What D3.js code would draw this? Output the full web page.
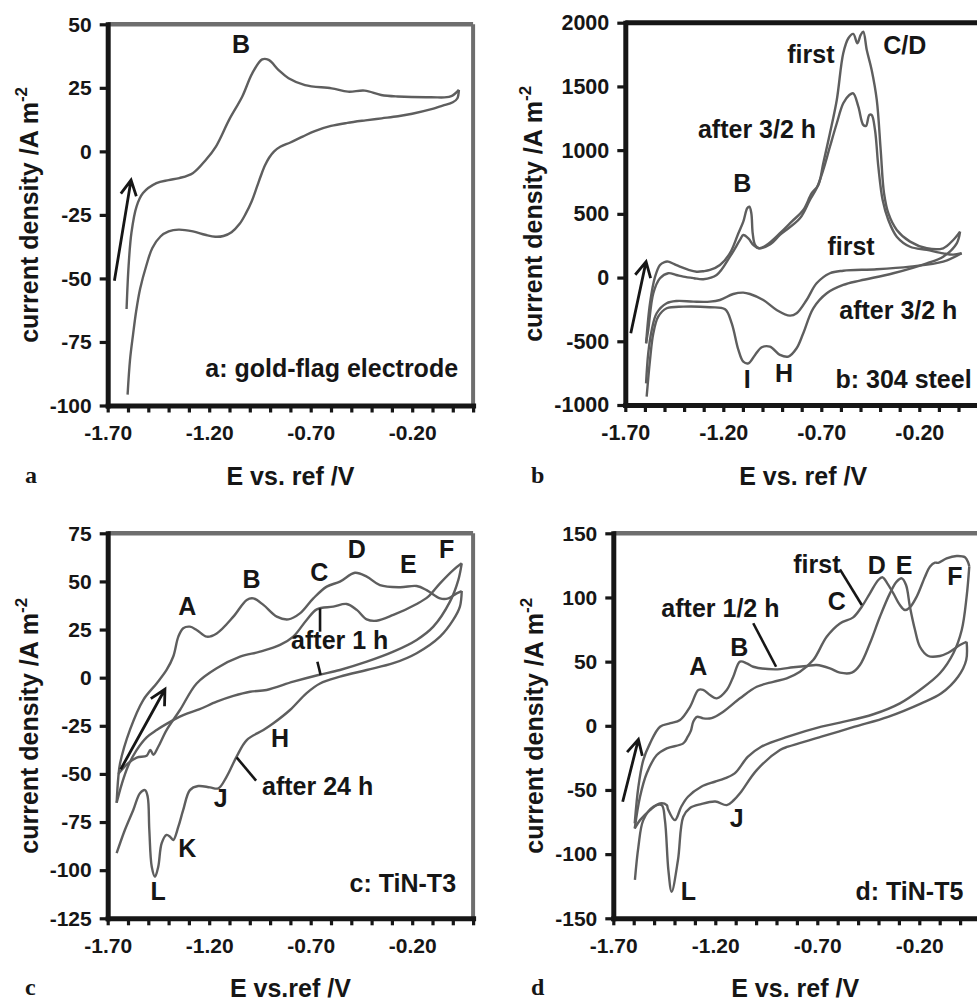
<!DOCTYPE html>
<html>
<head>
<meta charset="utf-8">
<script src="https://d3js.org/d3.v7.min.js"></script>
<style>
  html, body { margin: 0; padding: 0; background: #fff; }
  svg { display: block; }
</style>
</head>
<body>
<svg id="chart" width="977" height="1001"></svg>
<script>
// ---- data: [E vs. ref / V, current density / A m^-2] ----

// a: gold-flag electrode
const aForward = [[-1.607,-62],[-1.597,-45],[-1.583,-32],[-1.558,-21.7],[-1.526,-16.4],[-1.46,-12.5],[-1.40,-11.3],[-1.347,-10.5],[-1.281,-8.6],[-1.216,-3.3],[-1.167,1.9],[-1.102,12.4],[-1.037,21.6],[-0.988,30.7],[-0.939,36.2],[-0.907,36],[-0.858,32],[-0.809,28.8],[-0.728,26.1],[-0.597,24.8],[-0.516,23.5],[-0.434,23.9],[-0.353,22.2],[-0.272,21.6],[-0.109,21.3],[-0.011,21.6],[0.03,24.2]]
const aReverse = [[0.03,24.2],[0.022,20.8],[0.00,19.3],[-0.05,18],[-0.11,16.5],[-0.20,14.8],[-0.27,13.8],[-0.35,13],[-0.43,12.2],[-0.52,11.2],[-0.60,10],[-0.68,8],[-0.74,5.8],[-0.80,3.5],[-0.85,1.8],[-0.88,0],[-0.905,-2.5],[-0.925,-5.5],[-0.945,-9.5],[-0.965,-14],[-0.99,-19.5],[-1.02,-24.5],[-1.05,-28.5],[-1.09,-31.8],[-1.13,-33.3],[-1.17,-33.6],[-1.22,-32.8],[-1.28,-31.5],[-1.35,-30.8],[-1.40,-31.5],[-1.44,-33.5],[-1.48,-38],[-1.51,-45],[-1.54,-54],[-1.56,-63],[-1.575,-72],[-1.59,-82],[-1.602,-95.7]]

// b: 304 steel
const bFirstUp = [[-1.594,-516],[-1.574,-202],[-1.548,7],[-1.523,99],[-1.50,122],[-1.481,125],[-1.45,105],[-1.422,86],[-1.38,62],[-1.336,46],[-1.30,50],[-1.268,60],[-1.217,99],[-1.166,191],[-1.123,348],[-1.098,439],[-1.078,544],[-1.067,556],[-1.057,505],[-1.05,348],[-1.038,256],[-1.018,230],[-0.979,256],[-0.911,348],[-0.851,439],[-0.792,530],[-0.749,662],[-0.715,727],[-0.690,897],[-0.656,1132],[-0.621,1394],[-0.588,1760],[-0.562,1878],[-0.537,1912],[-0.516,1839],[-0.499,1904],[-0.486,1930],[-0.468,1786],[-0.443,1629],[-0.417,1394],[-0.397,1001],[-0.380,662],[-0.358,505],[-0.315,374],[-0.247,282],[-0.162,230],[-0.078,230],[-0.027,295],[0.008,360]]
const bLaterUp = [[-1.594,-516],[-1.583,-411],[-1.557,-123],[-1.523,-6],[-1.481,34],[-1.44,20],[-1.404,7],[-1.35,-5],[-1.302,-13],[-1.234,20],[-1.166,164],[-1.115,295],[-1.098,334],[-1.072,308],[-1.047,256],[-1.018,230],[-0.96,262],[-0.911,335],[-0.809,465],[-0.758,609],[-0.724,700],[-0.690,845],[-0.656,1027],[-0.621,1211],[-0.588,1368],[-0.557,1433],[-0.537,1446],[-0.511,1341],[-0.486,1198],[-0.472,1190],[-0.455,1276],[-0.443,1276],[-0.426,1158],[-0.409,870],[-0.387,609],[-0.358,452],[-0.315,321],[-0.247,242],[-0.162,217],[-0.078,190],[-0.027,180],[0.016,191]]
const bLaterDown = [[0.016,191],[-0.078,125],[-0.247,86],[-0.417,65],[-0.588,54],[-0.656,34],[-0.724,-45],[-0.775,-176],[-0.826,-280],[-0.86,-299],[-0.928,-254],[-0.996,-176],[-1.064,-129],[-1.098,-118],[-1.149,-129],[-1.217,-176],[-1.268,-189],[-1.353,-189],[-1.438,-184],[-1.489,-202],[-1.54,-280],[-1.565,-411],[-1.583,-594],[-1.594,-830]]
const bFirstDown = [[0.008,360],[-0.009,269],[-0.078,164],[-0.162,112],[-0.333,34],[-0.503,-24],[-0.588,-58],[-0.672,-123],[-0.741,-241],[-0.792,-437],[-0.826,-555],[-0.868,-620],[-0.911,-607],[-0.962,-542],[-1.004,-547],[-1.038,-607],[-1.072,-673],[-1.098,-660],[-1.123,-568],[-1.157,-359],[-1.191,-249],[-1.268,-233],[-1.404,-228],[-1.489,-241],[-1.532,-307],[-1.557,-437],[-1.574,-647],[-1.591,-935]]

// c: TiN-T3
const c24Up = [[-1.656,-65],[-1.648,-52],[-1.639,-44.5],[-1.59,-27],[-1.525,-11.6],[-1.459,-3],[-1.41,4],[-1.377,11],[-1.352,21.3],[-1.328,25.7],[-1.295,26.5],[-1.262,24.8],[-1.212,21.3],[-1.163,23],[-1.081,31.7],[-1.015,40.4],[-0.983,41.2],[-0.933,37.8],[-0.867,31.7],[-0.81,30.3],[-0.753,33.4],[-0.687,41.2],[-0.621,47.3],[-0.556,49.9],[-0.482,54.5],[-0.424,52.5],[-0.359,48.1],[-0.26,47],[-0.178,47.6],[-0.129,45.5],[-0.063,41.2],[-0.022,41.2],[0.019,43.8],[0.044,45]]
const c24Down = [[0.044,45],[0.035,36.9],[0.002,30],[-0.063,21.3],[-0.178,12.7],[-0.293,7.5],[-0.424,4],[-0.556,0.5],[-0.654,-3],[-0.72,-8],[-0.802,-16.8],[-0.884,-23.7],[-0.933,-27.2],[-1.015,-32.4],[-1.065,-41],[-1.114,-51.4],[-1.155,-57.5],[-1.196,-57],[-1.254,-56.3],[-1.295,-58.4],[-1.328,-68.7],[-1.352,-77.4],[-1.377,-84.3],[-1.393,-82.6],[-1.41,-81.7],[-1.434,-86],[-1.451,-98.2],[-1.467,-103.4],[-1.483,-98.2],[-1.495,-79],[-1.503,-61.8],[-1.516,-58.4],[-1.541,-60],[-1.574,-68.7],[-1.615,-79],[-1.656,-91.2]]
const c1Up = [[-1.648,-50],[-1.60,-44.5],[-1.557,-41.5],[-1.508,-40.5],[-1.49,-37.5],[-1.475,-40],[-1.451,-35.9],[-1.41,-27.2],[-1.344,-16.8],[-1.262,-3],[-1.163,4.9],[-1.048,10.9],[-0.95,13.5],[-0.851,17],[-0.786,21.3],[-0.72,30],[-0.67,35.5],[-0.589,36.9],[-0.523,38.3],[-0.473,35.2],[-0.424,30.3],[-0.375,29.6],[-0.293,32.6],[-0.178,38.3],[-0.121,42.1],[-0.063,49],[0.002,55.9],[0.044,59.4]]
const c1Down = [[0.044,59.4],[0.027,50.7],[-0.014,39.5],[-0.096,26.5],[-0.178,19.6],[-0.293,13.5],[-0.424,8.3],[-0.556,4],[-0.662,1.4],[-0.786,-2.1],[-0.917,-6.4],[-0.999,-7.3],[-1.081,-9.5],[-1.163,-12.5],[-1.25,-16.5],[-1.328,-19.5],[-1.41,-24],[-1.459,-27.2],[-1.508,-31],[-1.56,-38],[-1.60,-46],[-1.63,-55],[-1.656,-65]]

// d: TiN-T5
const dHalfUp = [[-1.595,-76],[-1.577,-47.5],[-1.553,-26.7],[-1.52,-13.7],[-1.471,-0.7],[-1.42,2],[-1.373,4.5],[-1.324,14.8],[-1.283,27.9],[-1.26,28],[-1.226,24],[-1.193,21.4],[-1.144,27.9],[-1.112,38.2],[-1.079,50],[-1.046,48.7],[-1.014,46],[-0.907,44],[-0.818,45.6],[-0.752,46.6],[-0.703,47.4],[-0.638,44.8],[-0.589,41.4],[-0.531,41.4],[-0.491,47.4],[-0.442,64.3],[-0.393,85],[-0.344,103.2],[-0.311,112.3],[-0.286,114.9],[-0.265,109.7],[-0.246,92.8],[-0.221,74.6],[-0.197,61.6],[-0.156,54.4],[-0.099,54.4],[-0.058,56.9],[-0.001,62.9],[0.032,65.5]]
const dHalfDown = [[0.032,65.5],[0.03,51.3],[-0.01,38.2],[-0.092,25.3],[-0.19,17.5],[-0.353,7],[-0.517,-0.7],[-0.68,-8.5],[-0.844,-16.3],[-0.883,-18.9],[-0.997,-34.5],[-1.079,-52.6],[-1.11,-58],[-1.144,-61.8],[-1.20,-59],[-1.27,-61],[-1.324,-64],[-1.357,-70.9],[-1.383,-104.6],[-1.414,-129.3],[-1.430,-112.4],[-1.447,-73.5],[-1.463,-61.8],[-1.504,-63.1],[-1.553,-73.5],[-1.577,-94.3],[-1.594,-120]]
const dFirstUp = [[-1.595,-80],[-1.569,-55.3],[-1.536,-37],[-1.487,-22.8],[-1.438,-17.6],[-1.357,-13.7],[-1.335,-8.5],[-1.32,-4],[-1.308,3.2],[-1.29,7],[-1.259,5.8],[-1.218,6],[-1.161,11],[-1.079,21.4],[-0.997,30.4],[-0.916,34.3],[-0.85,37],[-0.785,42.1],[-0.72,51.2],[-0.654,69.4],[-0.589,79.8],[-0.524,84.5],[-0.482,92.8],[-0.442,103.2],[-0.401,113.6],[-0.38,115.7],[-0.357,111],[-0.327,103.2],[-0.295,94.1],[-0.270,90.2],[-0.246,92.3],[-0.213,100.6],[-0.172,116.2],[-0.148,124],[-0.123,127.1],[-0.107,127],[-0.066,130.5],[-0.017,132.3],[0.024,131.3],[0.04,127.1],[0.045,124]]
const dFirstDown = [[0.045,124],[0.032,100.6],[0.008,74.6],[-0.033,56.5],[-0.099,40.9],[-0.197,27.9],[-0.295,17.5],[-0.425,9],[-0.589,2.5],[-0.68,-0.7],[-0.844,-8.5],[-0.975,-16.3],[-1.04,-24.1],[-1.105,-37.1],[-1.154,-41],[-1.203,-43.6],[-1.269,-47.5],[-1.334,-55.3],[-1.367,-63.1],[-1.398,-73.5],[-1.432,-65],[-1.438,-61.8],[-1.471,-60.4],[-1.52,-65.7],[-1.569,-73.5],[-1.595,-80]]

// tick values shared by all panels
const xTicks = d3.range(19).map(i => +(-1.7 + i * 0.1).toFixed(2))
const xLabelled = [-1.7, -1.2, -0.7, -0.2]
const aYTicks = [-100, -75, -50, -25, 0, 25, 50]
const bYTicks = [-1000, -500, 0, 500, 1000, 1500, 2000]
const cYTicks = [-125, -100, -75, -50, -25, 0, 25, 50, 75]
const dYTicks = [-150, -100, -50, 0, 50, 100, 150]

// annotations: [text, E, I, anchor]
const aLabels = [['B', -1.043, 38.6, 'middle'], ['a: gold-flag electrode', 0.026, -88.7, 'end']]
const bLabels = [['first', -0.753, 1686, 'middle'], ['C/D', -0.274, 1752, 'middle'], ['after 3/2 h', -1.028, 1098, 'middle'],
  ['B', -1.103, 674, 'middle'], ['first', -0.548, 177, 'middle'], ['after 3/2 h', -0.307, -327, 'middle'],
  ['I', -1.078, -869, 'middle'], ['H', -0.89, -817, 'middle'], ['b: 304 steel', 0.067, -869, 'end']]
const cLabels = [['A', -1.308, 32.6, 'middle'], ['B', -0.991, 46.4, 'middle'], ['C', -0.658, 50.4, 'middle'],
  ['D', -0.473, 62, 'middle'], ['E', -0.219, 54.2, 'middle'], ['F', -0.03, 62, 'middle'],
  ['after 1 h', -0.557, 14.7, 'middle'], ['H', -0.851, -35.9, 'middle'], ['after 24 h', -0.666, -61, 'middle'],
  ['J', -1.143, -67, 'middle'], ['K', -1.308, -93, 'middle'], ['L', -1.451, -115.5, 'middle'],
  ['c: TiN-T3', 0.016, -111.2, 'end']]
const dLabels = [['first', -0.702, 118.8, 'middle'], ['D', -0.409, 118.3, 'middle'], ['E', -0.275, 118.3, 'middle'],
  ['F', -0.025, 109.7, 'middle'], ['C', -0.605, 90.2, 'middle'], ['after 1/2 h', -1.175, 84.5, 'middle'],
  ['B', -1.082, 54.4, 'middle'], ['A', -1.283, 39.6, 'middle'], ['J', -1.095, -79.2, 'middle'],
  ['L', -1.332, -135.8, 'middle'], ['d: TiN-T5', 0.016, -135.8, 'end']]

// leader lines and scan-direction arrows: [[E1, I1], [E2, I2]]
const cPointers = [[[-0.654, 36], [-0.654, 23.9]], [[-0.667, 8.3], [-0.651, 1.4]], [[-1.065, -41.4], [-0.969, -53.5]]]
const dPointers = [[[-0.589, 121.9], [-0.482, 94.1]], [[-1.014, 79.9], [-0.902, 46]]]
const aArrow = [[-1.667, -50.9], [-1.585, -11.3]]
const bArrow = [[-1.672, -437], [-1.594, 125]]
const cArrow = [[-1.636, -47.6], [-1.418, -6]]
const dArrow = [[-1.654, -59.2], [-1.577, -10.6]]

const FONT = "'Liberation Sans', Arial, Helvetica, sans-serif"
const SERIF = "'Liberation Serif', 'Times New Roman', serif"
const CURVE_COLOR = '#5e5e5e'
const FRAME_GRAY = '#6e6e6e'
const INK = '#161616'

const svg = d3.select('#chart')
svg.append('rect').attr('width', 977).attr('height', 1001).attr('fill', '#fff')

// plain hyphen-minus, as in the scan
const fmtX = d => (xLabelled.some(v => Math.abs(v - d) < 1e-6) ? d.toFixed(2) : '')
const fmtY = d => String(d)

function drawPanel (cfg) {
  const g = svg.append('g')
  const x = d3.scaleLinear().domain([-1.7, 0.1]).range([cfg.left, cfg.right])
  const y = d3.scaleLinear().domain(cfg.yDomain).range([cfg.bottom, cfg.top])

  // top / right frame
  g.append('line')
    .attr('x1', cfg.left).attr('x2', Math.min(cfg.right, 977))
    .attr('y1', cfg.top).attr('y2', cfg.top)
    .attr('stroke', cfg.topColor).attr('stroke-width', cfg.topWidth)
  if (cfg.rightBorder) {
    g.append('line')
      .attr('x1', cfg.right).attr('x2', cfg.right)
      .attr('y1', cfg.top).attr('y2', cfg.bottom)
      .attr('stroke', FRAME_GRAY).attr('stroke-width', 4)
  }

  // curves
  const line = d3.line()
    .x(d => x(d[0]))
    .y(d => y(d[1]))
    .curve(d3.curveCatmullRom.alpha(0.5))
  g.selectAll('.curve')
    .data(cfg.curves)
    .enter()
    .append('path')
    .attr('class', 'curve')
    .attr('d', line)
    .attr('fill', 'none')
    .attr('stroke', CURVE_COLOR)
    .attr('stroke-width', 2.4)
    .attr('stroke-linejoin', 'round')

  // axes
  const xAxis = g.append('g')
    .attr('transform', `translate(0,${cfg.bottom})`)
    .call(d3.axisBottom(x).tickValues(xTicks).tickFormat(fmtX).tickSize(7).tickSizeOuter(0).tickPadding(13))
  const yAxis = g.append('g')
    .attr('transform', `translate(${cfg.left},0)`)
    .call(d3.axisLeft(y).tickValues(cfg.yTicks).tickFormat(fmtY).tickSize(8).tickSizeOuter(0).tickPadding(8))
  for (const ax of [xAxis, yAxis]) {
    ax.attr('font-family', FONT).attr('font-size', cfg.tickFont).attr('font-weight', 'bold')
    ax.select('.domain').attr('stroke', INK).attr('stroke-width', 5).attr('stroke-linecap', 'square')
    ax.selectAll('.tick line').attr('stroke', INK).attr('stroke-width', 3.2)
    ax.selectAll('.tick text').attr('fill', INK)
  }

  // axis titles
  g.append('text')
    .attr('x', (cfg.left + Math.min(cfg.right, 977)) / 2 + cfg.xTitleShift)
    .attr('y', cfg.xTitleY)
    .attr('text-anchor', 'middle')
    .attr('font-family', FONT).attr('font-size', 25).attr('font-weight', 'bold').attr('fill', INK)
    .text(cfg.xTitle)
  const yt = g.append('text')
    .attr('transform', `translate(${cfg.yTitleX},${(cfg.top + cfg.bottom) / 2}) rotate(-90)`)
    .attr('text-anchor', 'middle')
    .attr('font-family', FONT).attr('font-size', 25).attr('font-weight', 'bold').attr('fill', INK)
  yt.append('tspan').text('current density /A m')
  yt.append('tspan').attr('dy', -11).attr('font-size', 17).text('-2')

  // panel letter
  g.append('text')
    .attr('x', cfg.letterX).attr('y', cfg.xTitleY - 2)
    .attr('font-family', SERIF).attr('font-size', 24).attr('font-weight', 'bold').attr('fill', INK)
    .text(cfg.letter)

  // labels
  g.selectAll('.lab')
    .data(cfg.labels)
    .enter()
    .append('text')
    .attr('class', 'lab')
    .attr('x', d => x(d[1]))
    .attr('y', d => y(d[2]))
    .attr('text-anchor', d => d[3])
    .attr('font-family', FONT).attr('font-size', 25).attr('font-weight', 'bold').attr('fill', INK)
    .text(d => d[0])

  // leader lines
  g.selectAll('.ptr')
    .data(cfg.pointers || [])
    .enter()
    .append('line')
    .attr('class', 'ptr')
    .attr('x1', d => x(d[0][0])).attr('y1', d => y(d[0][1]))
    .attr('x2', d => x(d[1][0])).attr('y2', d => y(d[1][1]))
    .attr('stroke', INK).attr('stroke-width', 2.6)

  // scan direction arrow (open head)
  const [p0, p1] = cfg.arrow
  const x0 = x(p0[0]); const y0 = y(p0[1])
  const x1 = x(p1[0]); const y1 = y(p1[1])
  const ang = Math.atan2(y1 - y0, x1 - x0)
  const headLen = 17
  const spread = 0.48
  const head = d3.path()
  head.moveTo(x0, y0)
  head.lineTo(x1, y1)
  head.moveTo(x1 - headLen * Math.cos(ang - spread), y1 - headLen * Math.sin(ang - spread))
  head.lineTo(x1, y1)
  head.lineTo(x1 - headLen * Math.cos(ang + spread), y1 - headLen * Math.sin(ang + spread))
  g.append('path')
    .attr('d', head.toString())
    .attr('fill', 'none')
    .attr('stroke', INK)
    .attr('stroke-width', 2.8)
}

drawPanel({
  left: 107.7, right: 473.1, top: 24.3, bottom: 405.5,
  yDomain: [-100, 50], yTicks: aYTicks, tickFont: 21,
  topColor: FRAME_GRAY, topWidth: 4.5, rightBorder: true,
  curves: [aForward, aReverse], labels: aLabels, arrow: aArrow,
  xTitle: 'E vs. ref /V', xTitleY: 485, xTitleShift: 0, yTitleX: 38,
  letter: 'a', letterX: 25
})

drawPanel({
  left: 625.3, right: 978.1, top: 22.7, bottom: 405,
  yDomain: [-1000, 2000], yTicks: bYTicks, tickFont: 21.5,
  topColor: INK, topWidth: 5, rightBorder: false,
  curves: [bFirstUp, bFirstDown, bLaterUp, bLaterDown], labels: bLabels, arrow: bArrow,
  xTitle: 'E vs. ref /V', xTitleY: 485, xTitleShift: 2, yTitleX: 542,
  letter: 'b', letterX: 531
})

drawPanel({
  left: 107.7, right: 473.1, top: 533.3, bottom: 918.3,
  yDomain: [-125, 75], yTicks: cYTicks, tickFont: 21,
  topColor: FRAME_GRAY, topWidth: 4.5, rightBorder: true,
  curves: [c24Up, c24Down, c1Up, c1Down], labels: cLabels, pointers: cPointers, arrow: cArrow,
  xTitle: 'E vs.ref /V', xTitleY: 997, xTitleShift: 0, yTitleX: 38,
  letter: 'c', letterX: 25
})

drawPanel({
  left: 613.3, right: 980.5, top: 533.3, bottom: 918.3,
  yDomain: [-150, 150], yTicks: dYTicks, tickFont: 21,
  topColor: FRAME_GRAY, topWidth: 4.5, rightBorder: false,
  curves: [dFirstUp, dFirstDown, dHalfUp, dHalfDown], labels: dLabels, pointers: dPointers, arrow: dArrow,
  xTitle: 'E vs. ref /V', xTitleY: 997, xTitleShift: 0, yTitleX: 543,
  letter: 'd', letterX: 531
})
</script>
</body>
</html>
